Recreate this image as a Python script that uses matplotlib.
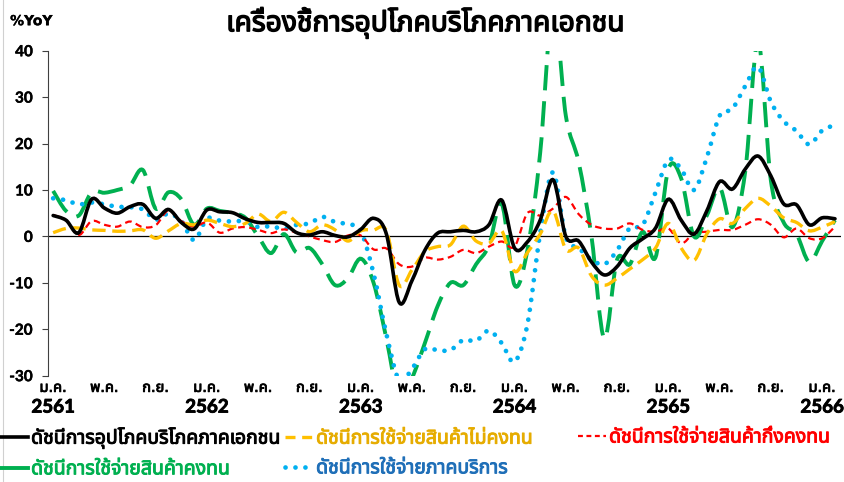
import numpy as np
import matplotlib
matplotlib.use('Agg')
import matplotlib.pyplot as plt
import matplotlib.patheffects as pe
from matplotlib import font_manager
from matplotlib.ft2font import FT2Font
from matplotlib.path import Path
from matplotlib.patches import PathPatch
from matplotlib.lines import Line2D

# monthly %YoY, Jan 2561 .. Feb 2566
private_idx = [4.5, 3.5, 0.8, 8.0, 6.1, 5.0, 6.4, 6.9, 3.9, 5.8,
               3.0, 1.6, 5.7, 5.3, 5.1, 3.8, 3.0, 3.0, 2.8, 0.8,
               0.3, 1.0, 0.2, -0.1, 1.5, 3.9, 0.5, -14.2, -9.5, -3.0,
               0.7, 1.0, 1.3, 1.0, 2.5, 7.8, -2.5, -1.2, 3.5, 12.2,
               0.0, -1.0, -5.5, -8.3, -6.5, -2.5, -0.5, 1.8, 8.0, 3.5,
               0.5, 5.5, 11.8, 10.2, 14.5, 17.3, 13.0, 7.0, 6.8, 2.5,
               4.0, 3.8]
nondurable = [0.8, 1.7, 1.8, 1.4, 1.3, 1.1, 1.2, 1.4, -0.4, 1.2,
              2.8, 2.5, 3.5, 2.8, 2.1, 2.8, 4.8, 3.2, 5.2, 3.0,
              1.0, 2.5, 1.4, -1.0, 1.2, 1.4, 1.2, -10.5, -7.2, -3.3,
              -2.2, -1.8, 2.2, -1.0, -1.5, 1.2, -7.5, -3.5, 0.5, 5.5,
              -2.8, -2.5, -8.5, -10.5, -9.0, -7.0, -5.0, -2.5, 2.8, -2.5,
              -5.2, 0.5, 3.8, 2.8, 6.0, 8.2, 6.5, 4.0, 3.0, 1.2,
              2.0, 3.2]
semidurable = [4.6, 3.5, 0.3, 3.3, 2.5, 2.1, 3.2, 2.0, 2.4, 5.6,
               3.3, 2.1, 3.0, 0.8, 1.7, 2.0, 1.4, 0.7, 1.5, 0.8,
               0.0, -0.8, -1.2, 0.2, 0.2, -2.8, -2.6, -6.0, -6.5, -4.6,
               -5.0, -4.4, -2.9, -3.6, -2.2, -1.1, -2.2, 5.0, 4.5, 6.0,
               8.5, 4.8, 2.5, 1.7, 1.7, 2.8, 1.4, 1.0, 1.7, -1.5,
               0.7, 1.0, 1.4, 1.4, 2.5, 3.7, 2.5, -0.2, 1.7, -0.4,
               -0.4, 2.1]
durable = [9.8, 5.5, 4.5, 9.5, 9.4, 10.0, 11.0, 14.3, 6.0, 9.5,
           8.0, 2.5, 6.0, 5.5, 5.0, 4.0, 0.0, -3.6, 0.5, -3.5,
           -2.5, -6.0, -10.5, -9.0, -4.8, -10.0, -22.0, -35.0, -30.5, -23.0,
           -15.0, -10.0, -10.5, -6.0, -2.0, 7.0, -10.5, -3.0, 18.0, 50.0,
           26.0, 16.0, 0.0, -22.0, -5.0, -6.0, 1.0, -4.5, 14.5, 12.5,
           0.0, 4.5, 10.5, 2.0, 14.0, 42.0, 12.0, 3.0, 0.5, -5.5,
           -1.0, 3.5]
services = [8.2, 7.8, 6.9, 7.3, 6.9, 6.4, 6.3, 5.8, 3.6, 4.9,
            3.3, -0.8, 3.8, 3.4, 3.2, 3.3, 2.0, 2.2, 1.6, 2.5,
            2.8, 4.2, 3.1, 2.6, 1.2, -8.0, -21.0, -31.0, -28.5, -24.3,
            -24.5, -24.5, -22.3, -22.5, -20.3, -23.0, -27.0, -19.0, 0.7, 13.8,
            -0.2, -2.5, -5.0, -6.0, -3.0, 1.8, 2.5, 9.5, 16.5, 14.5,
            10.0, 17.0, 26.0, 27.5, 32.4, 36.5, 29.0, 24.8, 22.7, 19.8,
            22.8, 24.0]

month_labels = ['ม.ค.', 'พ.ค.', 'ก.ย.'] * 5 + ['ม.ค.']
year_labels = ['2561', '2562', '2563', '2564', '2565', '2566']

series_names = ['ดัชนีการอุปโภคบริโภคภาคเอกชน',
                'ดัชนีการใช้จ่ายสินค้าไม่คงทน',
                'ดัชนีการใช้จ่ายสินค้ากึ่งคงทน',
                'ดัชนีการใช้จ่ายสินค้าคงทน',
                'ดัชนีการใช้จ่ายภาคบริการ']
title = 'เครื่องชี้การอุปโภคบริโภคภาคเอกชน'


def thai_font():
    pref = ['Tahoma', 'Leelawadee UI', 'Noto Sans Thai', 'Noto Sans Thai UI',
            'Loma', 'Garuda', 'Sarabun', 'Waree', 'Umpush', 'Kinnari', 'Norasi']
    found = []
    for f in font_manager.fontManager.ttflist:
        try:
            if 0x0E01 in FT2Font(f.fname).get_charmap():
                found.append(f.name)
        except Exception:
            pass
    for p in pref:
        if p in found:
            return p
    return found[0] if found else None


tf = thai_font()
fam = ['DejaVu Sans'] + ([tf] if tf else [])
plt.rcParams['font.family'] = fam
plt.rcParams['axes.unicode_minus'] = False
num_font = ['Lato', 'DejaVu Sans']


def bold(t, w=0.7):
    # the Thai face has no bold weight, so thicken with a stroke
    t.set_path_effects([pe.withStroke(linewidth=w, foreground=t.get_color())])


def smooth_path(x, y):
    # Excel-style smoothed line as cubic bezier through the points
    verts = [(x[0], y[0])]
    codes = [Path.MOVETO]
    n = len(x)
    for i in range(n - 1):
        xa, ya = (x[i - 1], y[i - 1]) if i > 0 else (x[i], y[i])
        xb, yb = (x[i + 2], y[i + 2]) if i + 2 < n else (x[i + 1], y[i + 1])
        c1 = (x[i] + (x[i + 1] - xa) / 6, y[i] + (y[i + 1] - ya) / 6)
        c2 = (x[i + 1] - (xb - x[i]) / 6, y[i + 1] - (yb - y[i]) / 6)
        verts += [c1, c2, (x[i + 1], y[i + 1])]
        codes += [Path.CURVE4] * 3
    return Path(verts, codes)


fig = plt.figure(figsize=(8.44, 4.82), dpi=100)
ax = fig.add_axes([0.0569, 0.2206, 0.9400, 0.6742])

x = np.arange(len(private_idx))
styles = [
    # data, color, lw, linestyle, capstyle, zorder
    (durable, '#00B050', 2.8, (0, (6.5, 2.8)), 'butt', 2),
    (services, '#00B0F0', 3.4, (0, (0.01, 2.1)), 'round', 3),
    (semidurable, '#FF0000', 1.6, (0, (3, 2)), 'butt', 4),
    (nondurable, '#FFC000', 2.4, (0, (4, 2)), 'butt', 5),
    (private_idx, '#000000', 2.6, '-', 'round', 6),
]
for data, col, lw, ls, cap, z in styles:
    ax.add_patch(PathPatch(smooth_path(x, np.array(data, float)), fill=False,
                           edgecolor=col, lw=lw, linestyle=ls,
                           capstyle=cap, zorder=z))

ax.axhline(0, color='black', lw=0.9, zorder=1)
ax.set_xlim(-0.4, 61.5)
ax.set_ylim(-30, 40)
ax.set_yticks(np.arange(-30, 41, 10))
for s in ['top', 'right', 'bottom']:
    ax.spines[s].set_visible(False)
ax.spines['left'].set_color('#404040')
ax.spines['left'].set_linewidth(0.8)
ax.tick_params(axis='y', length=4, width=0.8, color='#404040', pad=7)
for t in ax.get_yticklabels():
    t.set_fontfamily(num_font)
    t.set_fontsize(11)
    t.set_fontweight('bold')
    bold(t, 0.3)

ax.set_xticks(np.arange(0, 61, 4), month_labels)
ax.set_xticks(np.arange(0, 61, 12), year_labels, minor=True)
ax.xaxis.remove_overlapping_locs = False
ax.tick_params(axis='x', which='major', length=0, pad=3, labelsize=10.5)
ax.tick_params(axis='x', which='minor', length=0, pad=16.5)
for t in ax.get_xticklabels():
    bold(t, 0.6)
for t in ax.get_xticklabels(minor=True):
    t.set_fontfamily(num_font)
    t.set_fontsize(13.5)
    t.set_fontweight('bold')
    bold(t, 0.6)

bold(fig.text(0.504, 0.953, title, ha='center', va='center', fontsize=20.3), 1.0)
bold(fig.text(0.012, 0.956, '%YoY', ha='left', va='center', fontsize=10,
              fontweight='bold'), 0.2)

# Excel-like legend: three fixed columns, two rows
h_black = Line2D([], [], color='#000000', lw=2.6)
h_green = Line2D([], [], color='#00B050', lw=2.8)
h_yellow = Line2D([], [], color='#FFC000', lw=2.4, linestyle=(0, (3, 2)))
h_blue = Line2D([], [], color='#00B0F0', lw=3.4, linestyle=(0, (0.01, 2.1)),
                dash_capstyle='round')
h_red = Line2D([], [], color='#FF0000', lw=1.6, linestyle=(0, (2.2, 1.6)))
columns = [
    (0.0, 0.0602, [h_black, h_green], [series_names[0], series_names[3]],
     ['#000000', '#00B050']),
    (285 / 844, 0.0602, [h_yellow, h_blue], [series_names[1], series_names[4]],
     ['#E6AC00', '#1F6FB8']),
    (578 / 844, 0.0934, [h_red], [series_names[2]], ['#FF0000']),
]
for x0, yc, hs, ls, cs in columns:
    leg = fig.legend(hs, ls, loc='center left', bbox_to_anchor=(x0, yc),
                     frameon=False, borderpad=0, borderaxespad=0,
                     handlelength=1.45, handletextpad=0.15, labelspacing=0.55,
                     prop={'size': 14})
    for t, c in zip(leg.get_texts(), cs):
        t.set_color(c)
        bold(t, 0.7)

fig.add_artist(Line2D([0.003, 0.003], [0, 1], color='#d0d0d0', lw=0.8))

fig.savefig('out.png', dpi=100)
